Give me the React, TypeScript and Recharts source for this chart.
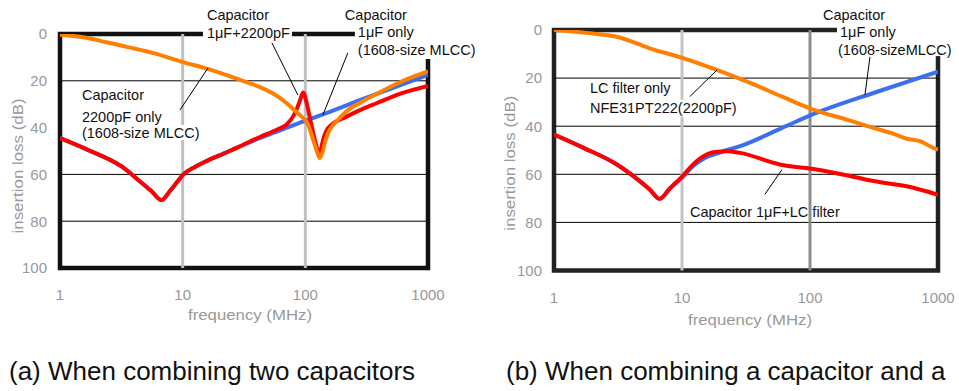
import React from "react";
import {
  LineChart, Line, XAxis, YAxis, ReferenceLine, ReferenceArea, ReferenceDot,
} from "recharts";

const FONT = '"Liberation Sans", Arial, sans-serif';

// axis ticks
const freqTicks = [1, 10, 100, 1000];
const lossTicks = [0, 20, 40, 60, 80, 100];

// (a) two capacitors
const freqA1u = [1, 1.7, 3.2, 4.6, 5.6, 6.7, 7.9, 9, 10, 12.6, 15.2, 23.5, 39, 60, 103, 150, 278, 500, 1000];
const lossA1u = [44.5, 49.6, 56.7, 63.5, 67.3, 71, 67, 63.3, 60.3, 56.8, 54.6, 50.3, 45.3, 41.5, 36.8, 33.7, 28.3, 23.3, 17.5];

const freqA2200 = [1, 1.5, 2.3, 3.5, 5.9, 10, 15.7, 25, 35, 42.7, 60, 70, 80, 90, 105.6, 116, 125, 131, 138, 146, 154, 165, 180, 217, 300, 381, 590, 1000];
const lossA2200 = [0.3, 1.3, 3.3, 5.5, 8.3, 12, 14.8, 18.3, 21, 22.7, 26.8, 29.5, 32.2, 34.6, 38.9, 45.3, 50.5, 53, 50.5, 45.5, 42, 39.5, 37.3, 33, 28.5, 25.6, 20.6, 16];

const freqAboth = [1, 1.7, 3.2, 4.6, 5.6, 6.7, 7.9, 9, 10, 12.6, 15.2, 23.5, 32, 42.7, 58, 70, 80, 86, 91, 96, 102.6, 109, 116, 124, 130, 134, 140, 148, 165, 217, 300, 381, 590, 1000];
const lossAboth = [44.5, 49.6, 56.7, 63.5, 67.3, 71, 67, 63.3, 60.3, 56.8, 54.6, 50.3, 47, 44, 41, 38.8, 35, 31.5, 28, 25, 29.6, 36, 42.4, 48.5, 52.4, 49.5, 45, 41.5, 38.6, 35.3, 31.8, 29.6, 25.6, 22.2];

// (b) capacitor + LC filter
const freqBlc = [1, 1.8, 3.1, 5.6, 10.2, 18.7, 34, 60, 106, 200, 313, 450, 569, 723, 918, 1000];
const lossBlc = [0, 1.2, 2.8, 7.6, 11.7, 16.6, 22, 27.6, 33.1, 37.5, 40.7, 43.2, 45.2, 46.2, 49, 49.7];

const freqB1u = [1, 1.7, 3.1, 4.6, 5.6, 6.7, 8, 10.2, 12, 13.8, 16, 18.6, 22.3, 28.4, 60, 112, 313, 1000];
const lossB1u = [43.5, 49, 55.9, 62.5, 66.3, 70.2, 66, 61, 57, 54.5, 52.6, 51.4, 50, 48.3, 40.8, 34.5, 26.2, 17.3];

const freqBboth = [1, 1.7, 3.1, 4.6, 5.6, 6.7, 8, 10.2, 12, 13.8, 16, 18.6, 22.3, 28.4, 58, 112, 205, 313, 641, 1000];
const lossBboth = [43.5, 49, 55.9, 62.5, 66.3, 70.2, 66, 60.5, 56.3, 53.5, 51.5, 50.6, 50.4, 51.1, 55.9, 58, 60.7, 62.8, 65.6, 68.5];

const pts = (f: number[], v: number[]) => f.map((x, i) => ({ f: x, db: v[i] }));

// annotations: anchor in data units, text offsets / white boxes in px
type Anno = {
  f: number; db: number;
  lines: [string, number, number][];
  bgs: [number, number, number, number][];
};

const annosA: Anno[] = [
  { f: 15.78, db: -8.1, lines: [["Capacitor", 0, 0], ["1μF+2200pF", 0, 18]], bgs: [[-4, -12, 89, 36]] },
  { f: 210, db: -8.1, lines: [["Capacitor", 0, 0], ["1μF only", 13, 17], ["(1608-size MLCC)", 13, 35]], bgs: [[10, -14, 130, 58]] },
  { f: 1.51, db: 26.1, lines: [["Capacitor", 0, 0], ["2200pF only", 0, 22], ["(1608-size MLCC)", 0, 38]], bgs: [[-3, 13, 86, 17], [-3, 30, 126, 15]] },
];
const leadersA = [
  [9.5, 32.5, 16.1, 14.5],
  [53.4, 3.8, 87, 26.1],
  [222, 8.1, 139, 34.6],
];

const annosB: Anno[] = [
  { f: 1.91, db: 24, lines: [["LC filter only", 0, 0], ["NFE31PT222(2200pF)", 0, 20]], bgs: [[-3, 12, 155, 17]] },
  { f: 126.3, db: -6.2, lines: [["Capacitor", 0, 0], ["1μF only", 17, 17], ["(1608-sizeMLCC)", 15, 35]], bgs: [[14, -15, 130, 56]] },
  { f: 11.54, db: 75.8, lines: [["Capacitor 1μF+LC filter", 0, 0]], bgs: [] },
];
const leadersB = [
  [11.5, 27.7, 18.8, 16.6],
  [294, 11.2, 269, 26.9],
  [44.5, 68.3, 60.4, 58],
];

function AnnoShape({ cx, cy, anno }: { cx: number; cy: number; anno: Anno }) {
  return (
    <g>
      {anno.bgs.map(([dx, dy, w, h], i) => (
        <rect key={i} x={cx + dx} y={cy + dy} width={w} height={h} fill="#fff" />
      ))}
      {anno.lines.map(([t, dx, dy], i) => (
        <text key={i} x={cx + dx} y={cy + dy} dominantBaseline="central"
          fontSize={14.5} fill="#111" fontFamily={FONT}>{t}</text>
      ))}
    </g>
  );
}

const tickStyle = { fontSize: 15, fill: "#999", fontFamily: FONT };

const yTitle = (dx: number, dy: number) => (p: any) => {
  const vb = p.viewBox;
  if (!vb) return null;
  const x = vb.x + dx;
  const y = vb.y + vb.height / 2 + dy;
  return (
    <text x={x} y={y} transform={`rotate(-90 ${x} ${y})`} textAnchor="middle" dominantBaseline="central"
      fontSize={14} fill="#999" fontFamily={FONT} textLength={135} lengthAdjust="spacingAndGlyphs">
      insertion loss (dB)
    </text>
  );
};

const xTitle = (dx: number, dy: number) => (p: any) => {
  const vb = p.viewBox;
  if (!vb) return null;
  return (
    <text x={vb.x + vb.width / 2 + dx} y={vb.y + dy} textAnchor="middle" dominantBaseline="central"
      fontSize={14} fill="#999" fontFamily={FONT} textLength={124} lengthAdjust="spacingAndGlyphs">
      frequency (MHz)
    </text>
  );
};

type Series = { data: { f: number; db: number }[]; color: string };

function Panel(props: {
  width: number; height: number; margin: any; yWidth: number; xHeight: number;
  yTickMargin: number; xTickMargin: number; yT: [number, number]; xT: [number, number];
  hGrid: number[]; vGrid: [number, string][]; frame: string;
  series: Series[]; annos: Anno[]; leaders: number[][];
}) {
  return (
    <LineChart width={props.width} height={props.height} margin={props.margin}>
      <XAxis dataKey="f" type="number" scale="log" domain={[1, 1000]} allowDataOverflow
        ticks={freqTicks} tick={tickStyle} tickLine={false} axisLine={false}
        tickSize={0} tickMargin={props.xTickMargin} height={props.xHeight}
        label={{ content: xTitle(props.xT[0], props.xT[1]) }} />
      <YAxis type="number" domain={[0, 100]} reversed allowDataOverflow ticks={lossTicks}
        tick={tickStyle} tickLine={false} axisLine={false} tickSize={0}
        tickMargin={props.yTickMargin} width={props.yWidth}
        label={{ content: yTitle(props.yT[0], props.yT[1]) }} />
      {props.hGrid.map((v) => (
        <ReferenceLine key={"h" + v} y={v} stroke="#000" strokeWidth={1} />
      ))}
      {props.vGrid.map(([v, c]) => (
        <ReferenceLine key={"v" + v} x={v} stroke={c} strokeWidth={3} />
      ))}
      <ReferenceArea x1={1} x2={1000} y1={0} y2={100} fill="none" fillOpacity={0}
        stroke={props.frame} strokeWidth={4.5} ifOverflow="visible" />
      {props.series.map((s, i) => (
        <Line key={i} data={s.data} dataKey="db" type="monotone" stroke={s.color}
          strokeWidth={4} dot={false} activeDot={false} isAnimationActive={false} />
      ))}
      {props.leaders.map(([f1, d1, f2, d2], i) => (
        <ReferenceLine key={"l" + i} segment={[{ x: f1, y: d1 }, { x: f2, y: d2 }]}
          stroke="#000" strokeWidth={1} ifOverflow="visible" />
      ))}
      {props.annos.map((a, i) => (
        <ReferenceDot key={"a" + i} x={a.f} y={a.db} r={0} ifOverflow="visible"
          shape={(p: any) => <AnnoShape cx={p.cx} cy={p.cy} anno={a} />} />
      ))}
    </LineChart>
  );
}

const ORANGE = "#ff7f00";
const BLUE = "#3c6ef0";
const RED = "#ff0000";

export default function App() {
  return (
    <div style={{ position: "absolute", left: 0, top: 0, width: 959, height: 391, background: "#fff", overflow: "hidden" }}>
      <div style={{ position: "absolute", left: 0, top: 0 }}>
        <Panel width={480} height={340} margin={{ top: 34, right: 52, bottom: 0, left: 0 }}
          yWidth={60} xHeight={72} yTickMargin={13} xTickMargin={21}
          yT={[18, 15]} xT={[6, 47]}
          hGrid={[20, 60, 80]} vGrid={[[10, "#c0c0c0"], [100, "#c0c0c0"]]} frame="#111"
          series={[
            { data: pts(freqA1u, lossA1u), color: BLUE },
            { data: pts(freqAboth, lossAboth), color: RED },
            { data: pts(freqA2200, lossA2200), color: ORANGE },
          ]}
          annos={annosA} leaders={leadersA} />
      </div>
      <div style={{ position: "absolute", left: 480, top: 0 }}>
        <Panel width={479} height={340} margin={{ top: 30, right: 21, bottom: 0, left: 0 }}
          yWidth={74} xHeight={69.5} yTickMargin={12} xTickMargin={21.5}
          yT={[30, 13]} xT={[4, 49.5]}
          hGrid={[20, 40, 60, 80]} vGrid={[[10, "#c4c4c4"], [100, "#8c8c8c"]]} frame="#222"
          series={[
            { data: pts(freqB1u, lossB1u), color: BLUE },
            { data: pts(freqBboth, lossBboth), color: RED },
            { data: pts(freqBlc, lossBlc), color: ORANGE },
          ]}
          annos={annosB} leaders={leadersB} />
      </div>
      <div style={{ position: "absolute", left: 9, top: 358, fontFamily: FONT, fontSize: 26, lineHeight: "26px", color: "#111", whiteSpace: "nowrap" }}>
        (a) When combining two capacitors
      </div>
      <div style={{ position: "absolute", left: 506, top: 358, fontFamily: FONT, fontSize: 26, lineHeight: "26px", color: "#111", whiteSpace: "nowrap" }}>
        (b) When combining a capacitor and a
      </div>
    </div>
  );
}
